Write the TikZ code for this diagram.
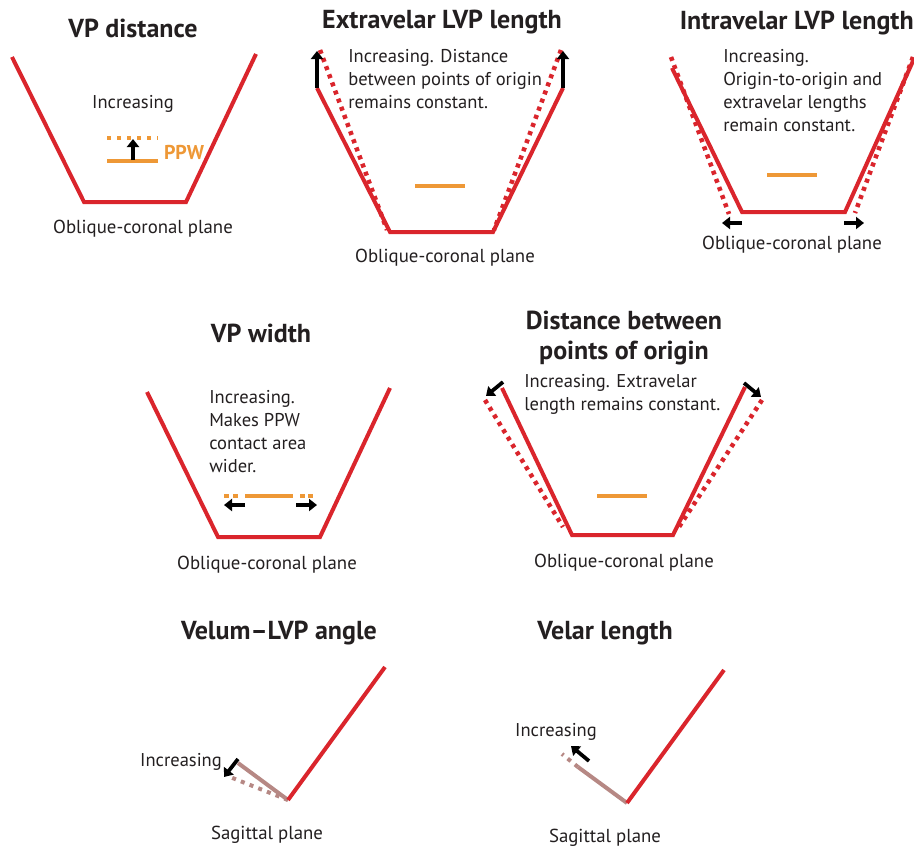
\documentclass[tikz,border=0pt]{standalone}
\usepackage{fontspec}
\setmainfont{PT Sans}
\usetikzlibrary{arrows.meta}
\definecolor{lvp}{RGB}{218,37,44}
\definecolor{ppw}{RGB}{238,152,54}
\definecolor{velumc}{RGB}{182,136,132}
\definecolor{ink}{RGB}{35,31,32}

\begin{document}
\begin{tikzpicture}[x=0.75pt,y=-0.75pt,
  title/.style={font=\bfseries\fontsize{19.5}{22.5}\selectfont, text=ink, inner sep=0, align=center},
  note/.style={font=\fontsize{13.9}{17.2}\selectfont, text=ink, align=left, inner sep=0},
  plane/.style={font=\fontsize{14.1}{16}\selectfont, text=ink, inner sep=0},
  muscle/.style={draw=lvp, line width=3pt, line join=miter},
  muscledot/.style={draw=lvp, line width=3.4pt, dash pattern=on 3pt off 3.5pt},
  wall/.style={draw=ppw, line width=3pt},
  walldash/.style={draw=ppw, line width=3pt, dash pattern=on 3pt off 4.5pt},
  velum/.style={draw=velumc, line width=3pt},
  velumdot/.style={draw=velumc, line width=3pt, dash pattern=on 3pt off 4pt},
  push/.style={draw=black, line width=2.8pt, -{Triangle[length=6pt,width=9pt]}},
]
\fill[white] (0,0) rectangle (914,846);
\useasboundingbox (0,0) rectangle (914,846);

% ---------- VP distance ----------
\node[title] (t1) at (133,28) {VP distance};
\coordinate (p1a) at (12,57);
\coordinate (p1b) at (84,202);
\coordinate (p1c) at (186,202);
\coordinate (p1d) at (256,54);
\draw[muscle] (p1a) -- (p1b) -- (p1c) -- (p1d);
\node[note] (n1) at (133,104) {Increasing};
\coordinate (w1a) at (107,138); \coordinate (w1b) at (158,138);
\coordinate (w1c) at (107,161); \coordinate (w1d) at (158,161);
\draw[walldash] (w1a) -- (w1b);
\draw[wall] (w1c) -- (w1d);
\coordinate (u1a) at (133,160); \coordinate (u1b) at (133,139);
\draw[push] (u1a) -- (u1b);
\node[font=\bfseries\fontsize{15}{17}\selectfont, text=ppw, inner sep=0] (ppw) at (184,152) {PPW};
\node[plane] (s1) at (143,229) {Oblique-coronal plane};

% ---------- Extravelar LVP length ----------
\node[title] (t2) at (442,22) {Extravelar LVP length};
\coordinate (q2a) at (320,50); \coordinate (q2b) at (387,230);
\coordinate (q2c) at (561,50); \coordinate (q2d) at (494,230);
\draw[muscledot] (q2a) -- (q2b);
\draw[muscledot] (q2c) -- (q2d);
\coordinate (p2a) at (317,88);
\coordinate (p2b) at (390,232);
\coordinate (p2c) at (493,232);
\coordinate (p2d) at (563,88);
\draw[muscle] (p2a) -- (p2b) -- (p2c) -- (p2d);
\coordinate (u2a) at (317,51); \coordinate (u2b) at (563,51);
\draw[push] (p2a) -- (u2a);
\draw[push] (p2d) -- (u2b);
\coordinate (w2a) at (415,186); \coordinate (w2b) at (465,186);
\draw[wall] (w2a) -- (w2b);
\node[note, anchor=north west] (n2) at (348,49) {Increasing. Distance\\between points of origin\\remains constant.};
\node[plane] (s2) at (445,258) {Oblique-coronal plane};

% ---------- Intravelar LVP length ----------
\node[title, anchor=east] (t3) at (914,23) {Intravelar LVP length};
\coordinate (q3a) at (671,57); \coordinate (q3b) at (729,214);
\coordinate (q3c) at (913,57); \coordinate (q3d) at (855,213);
\draw[muscledot] (q3a) -- (q3b);
\draw[muscledot] (q3c) -- (q3d);
\coordinate (p3a) at (672,68);
\coordinate (p3b) at (742,212);
\coordinate (p3c) at (845,212);
\coordinate (p3d) at (913,61);
\draw[muscle] (p3a) -- (p3b) -- (p3c) -- (p3d);
\coordinate (u3a) at (742,223); \coordinate (u3b) at (722,223);
\coordinate (u3c) at (844,223); \coordinate (u3d) at (864,223);
\draw[push] (u3a) -- (u3b);
\draw[push] (u3c) -- (u3d);
\coordinate (w3a) at (767,175); \coordinate (w3b) at (817,175);
\draw[wall] (w3a) -- (w3b);
\node[note, anchor=north west] (n3) at (723,49) {Increasing.\\Origin-to-origin and\\extravelar lengths\\remain constant.};
\node[plane] (s3) at (792,245) {Oblique-coronal plane};

% ---------- VP width ----------
\node[title] (t4) at (261,333) {VP width};
\coordinate (p4a) at (147,392);
\coordinate (p4b) at (218,537);
\coordinate (p4c) at (320,537);
\coordinate (p4d) at (390,388);
\draw[muscle] (p4a) -- (p4b) -- (p4c) -- (p4d);
\coordinate (w4a) at (245,496); \coordinate (w4b) at (293,496);
\draw[wall] (w4a) -- (w4b);
\draw[wall] (224,496) -- (229,496);
\draw[wall] (233,496) -- (238,496);
\draw[wall] (300,496) -- (305,496);
\draw[wall] (308,496) -- (313,496);
\coordinate (u4a) at (245,505); \coordinate (u4b) at (224,505);
\coordinate (u4c) at (296,505); \coordinate (u4d) at (317,505);
\draw[push] (u4a) -- (u4b);
\draw[push] (u4c) -- (u4d);
\node[note, anchor=north west] (n4) at (209,390) {Increasing.\\Makes PPW\\contact area\\wider.};
\node[plane] (s4) at (267,565) {Oblique-coronal plane};

% ---------- Distance between points of origin ----------
\node[title] (t5) at (624,338) {Distance between\\points of origin};
\coordinate (q5a) at (485,400); \coordinate (q5b) at (563,527);
\coordinate (q5c) at (762,400); \coordinate (q5d) at (677,530);
\draw[muscledot] (q5a) -- (q5b);
\draw[muscledot] (q5c) -- (q5d);
\coordinate (p5a) at (502,388);
\coordinate (p5b) at (572,535);
\coordinate (p5c) at (673,535);
\coordinate (p5d) at (745,387);
\draw[muscle] (p5a) -- (p5b) -- (p5c) -- (p5d);
\coordinate (u5a) at (503,382); \coordinate (u5b) at (486,396);
\coordinate (u5c) at (744,383); \coordinate (u5d) at (761,397);
\draw[push] (u5a) -- (u5b);
\draw[push] (u5c) -- (u5d);
\coordinate (w5a) at (597,496); \coordinate (w5b) at (647,496);
\draw[wall] (w5a) -- (w5b);
\node[note, anchor=north west] (n5) at (524,374) {Increasing. Extravelar\\length remains constant.};
\node[plane] (s5) at (624,563) {Oblique-coronal plane};

% ---------- Velum-LVP angle ----------
\node[title] (t6) at (279,633) {Velum–LVP angle};
\coordinate (v6o) at (288,800);
\coordinate (v6a) at (385,667);
\coordinate (v6b) at (238,763);
\coordinate (v6c) at (230,777);
\draw[velumdot] (v6o) -- (v6c);
\draw[velum] (v6o) -- (v6b);
\draw[muscle] (v6o) -- (v6a);
\coordinate (u6a) at (238,759); \coordinate (u6b) at (224,777);
\draw[push] (u6a) -- (u6b);
\node[note] (n6) at (181,762) {Increasing};
\node[plane] (s6) at (267,835) {Sagittal plane};

% ---------- Velar length ----------
\node[title] (t7) at (605,633) {Velar length};
\coordinate (v7o) at (627,803);
\coordinate (v7a) at (724,670);
\coordinate (v7b) at (578,767);
\coordinate (v7c) at (562,754);
\draw[velum] (v7o) -- (v7b);
\draw[velumdot] (v7b) -- (v7c);
\draw[muscle] (v7o) -- (v7a);
\coordinate (u7a) at (589,761); \coordinate (u7b) at (571,746);
\draw[push] (u7a) -- (u7b);
\node[note] (n7) at (556,732) {Increasing};
\node[plane] (s7) at (605,838) {Sagittal plane};
\end{tikzpicture}
\end{document}
